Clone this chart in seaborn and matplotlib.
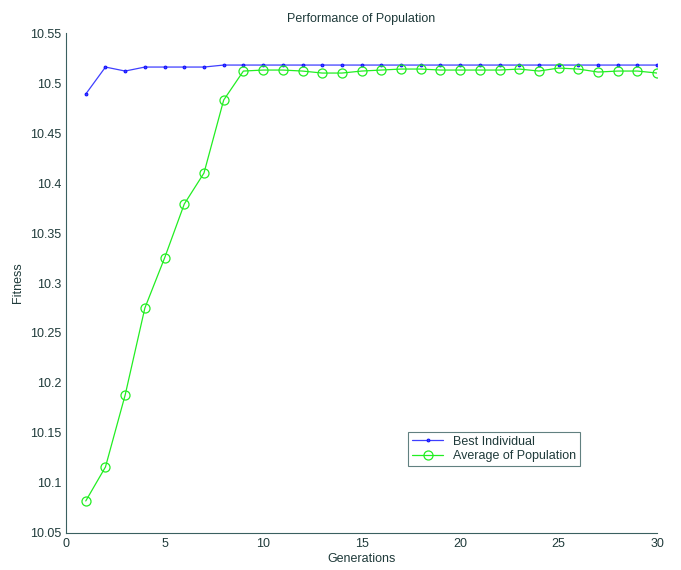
import seaborn as sns
import matplotlib.pyplot as plt
import pandas as pd
import numpy as np

# data
generations = list(range(1, 31))
best_individual = [10.489, 10.516, 10.512, 10.516, 10.516, 10.516, 10.516, 10.518, 10.518, 10.518,
                   10.518, 10.518, 10.518, 10.518, 10.518, 10.518, 10.518, 10.518, 10.518, 10.518,
                   10.518, 10.518, 10.518, 10.518, 10.518, 10.518, 10.518, 10.518, 10.518, 10.518]
avg_population = [10.082, 10.116, 10.188, 10.275, 10.325, 10.379, 10.410, 10.483, 10.512, 10.513,
                  10.513, 10.512, 10.510, 10.510, 10.512, 10.513, 10.514, 10.514, 10.513, 10.513,
                  10.513, 10.513, 10.514, 10.512, 10.515, 10.514, 10.511, 10.512, 10.512, 10.510]

df = pd.DataFrame({"Generation": generations,
                   "Best Individual": best_individual,
                   "Average of Population": avg_population})

sns.set_style("white")
plt.rcParams["font.family"] = ["Liberation Sans", "DejaVu Sans"]
text_col = "#1f3a3a"
axis_col = "#3a6060"

fig = plt.figure(figsize=(6.81, 5.70), dpi=100)
ax = fig.add_axes([0.097, 0.065, 0.868, 0.877])

sns.lineplot(data=df, x="Generation", y="Best Individual", ax=ax,
             color="#3f3fff", linewidth=0.9, marker=".", markersize=4,
             markeredgecolor="#1010ff", label="Best Individual")
sns.lineplot(data=df, x="Generation", y="Average of Population", ax=ax,
             color="#22ee22", linewidth=0.9, marker="o", markersize=6.5,
             markerfacecolor="none", markeredgecolor="#22ee22", markeredgewidth=0.9,
             label="Average of Population")

ax.set_xlim(0, 30)
ax.set_ylim(10.05, 10.55)
ax.set_xticks([0, 5, 10, 15, 20, 25, 30])
ax.set_yticks(np.round(np.arange(10.05, 10.551, 0.05), 2))
ax.set_yticklabels(["10.05", "10.1", "10.15", "10.2", "10.25", "10.3",
                    "10.35", "10.4", "10.45", "10.5", "10.55"])
ax.tick_params(direction="in", length=5, width=0.8, colors=axis_col,
               labelcolor=text_col, labelsize=9)
for side in ["top", "right"]:
    ax.spines[side].set_visible(False)
for side in ["left", "bottom"]:
    ax.spines[side].set_color(axis_col)
    ax.spines[side].set_linewidth(0.8)

ax.set_title("Performance of Population", fontsize=9, color=text_col, pad=8)
ax.set_xlabel("Generations", fontsize=9, color=text_col, labelpad=2)
ax.set_ylabel("Fitness", fontsize=9, color=text_col, labelpad=4)

leg = ax.legend(loc="lower left", bbox_to_anchor=(0.579, 0.134), fontsize=9,
                frameon=True, fancybox=False, borderpad=0.3, handlelength=2.5,
                labelspacing=0.2, borderaxespad=0)
leg.get_frame().set_edgecolor(axis_col)
leg.get_frame().set_linewidth(0.8)
for t in leg.get_texts():
    t.set_color(text_col)

plt.savefig("out.png", dpi=100)
plt.close()
